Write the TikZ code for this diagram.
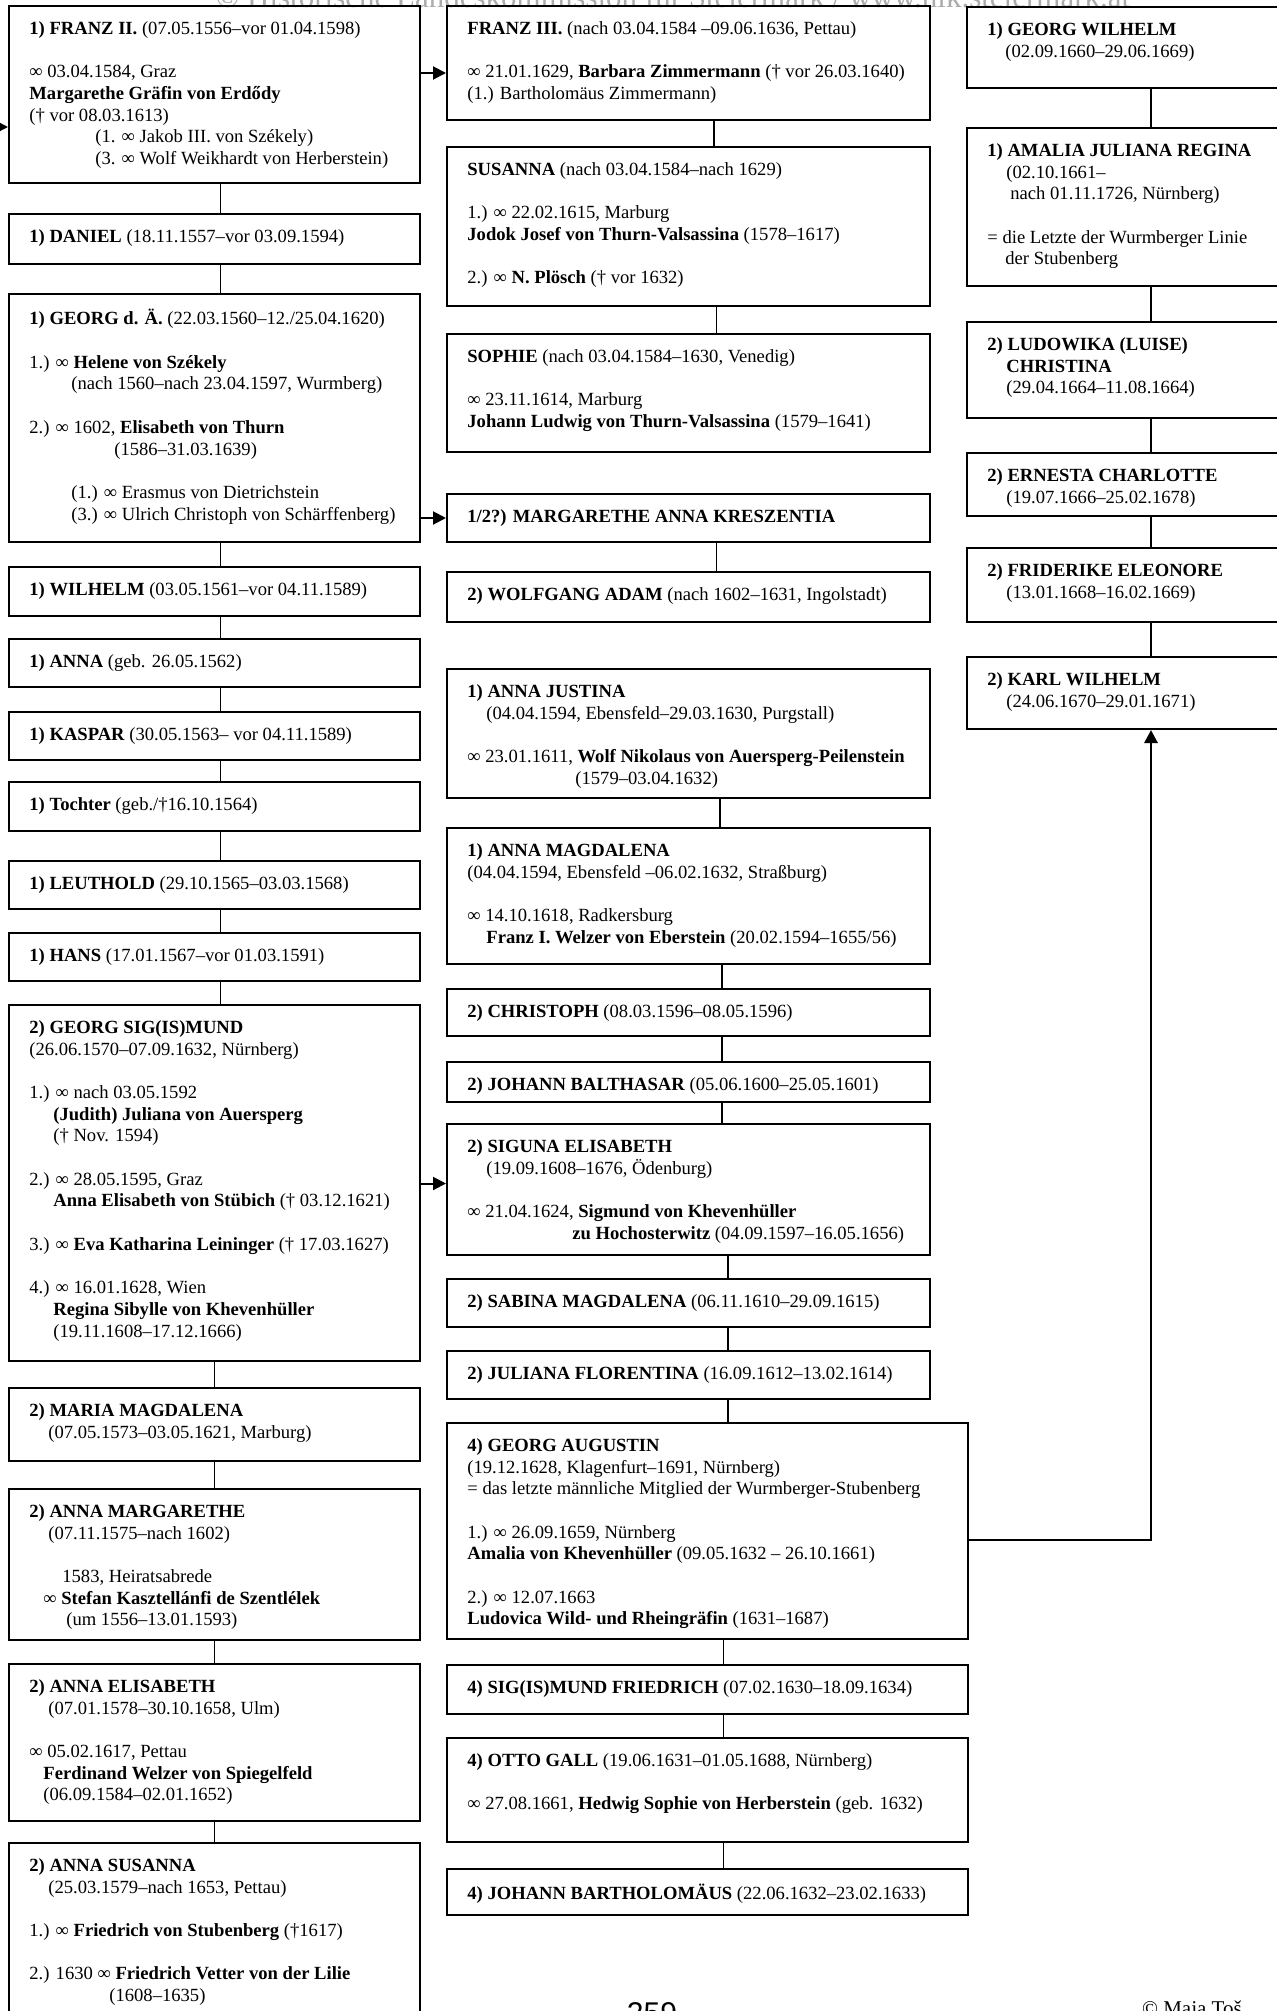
\documentclass[tikz,border=0pt]{standalone}
\usepackage{fontspec}
\setmainfont{Liberation Serif}
\newfontfamily\pagefont{Liberation Sans}
\usepackage{tikz}
\usetikzlibrary{arrows.meta, fit}
\tikzstyle{person} = [draw, line width=1pt, inner sep=0pt]
\tikzstyle{entry} = [anchor=north west, align=left, inner sep=0pt,
    xshift=10.5pt, yshift=-8pt, font=\fontsize{9.3}{10.85}\selectfont]
\tikzstyle{line} = [draw, line width=0.9pt]
\tikzstyle{arrow} = [draw, line width=1pt, -{Triangle[length=6.5pt, width=6.5pt]}]
\newcommand{\vgap}{\\[10.85pt]}
\newcommand{\ind}[1]{\hspace*{#1pt}}

\begin{document}
\begin{tikzpicture}[x=0.5pt, y=-0.5pt]
    \useasboundingbox (0,0) rectangle (1277,2011);
    % Page marks
    \node [anchor=base, text=gray!65, font=\fontsize{15.5}{18}\selectfont] (watermark) at (673,8)
        {© Historische Landeskommission für Steiermark / www.hlk.steiermark.at};
    \node [anchor=base, font=\pagefont\fontsize{15}{18}\selectfont] (pagenr) at (652,2023) {259};
    \node [anchor=base west, font=\fontsize{10.5}{12}\selectfont] (author) at (1135,2015) {© Maja Toš};
    % Nodes: first column
    \node [person, fit={(9,6) (420,183)}] (franzII) {};
    \node [entry] (franzIItext) at (franzII.north west) {\textbf{1) FRANZ II.} (07.05.1556–vor 01.04.1598)\vgap
        ∞ 03.04.1584, Graz\\
        \textbf{Margarethe Gräfin von Erdődy}\\
        († vor 08.03.1613)\\
        \ind{33}(1. ∞ Jakob III. von Székely)\\
        \ind{33}(3. ∞ Wolf Weikhardt von Herberstein)};
    \node [person, fit={(9,214) (420,264)}] (daniel) {};
    \node [entry] (danieltext) at (daniel.north west) {\textbf{1) DANIEL} (18.11.1557–vor 03.09.1594)};
    \node [person, fit={(9,294) (420,542)}] (georgA) {};
    \node [entry] (georgAtext) at (georgA.north west) {\textbf{1) GEORG d. Ä.} (22.03.1560–12./25.04.1620)\vgap
        1.) ∞ \textbf{Helene von Székely}\\
        \ind{21}(nach 1560–nach 23.04.1597, Wurmberg)\vgap
        2.) ∞ 1602, \textbf{Elisabeth von Thurn}\\
        \ind{42.5}(1586–31.03.1639)\vgap
        \ind{21}(1.) ∞ Erasmus von Dietrichstein\\
        \ind{21}(3.) ∞ Ulrich Christoph von Schärffenberg)};
    \node [person, fit={(9,567) (420,616)}] (wilhelm) {};
    \node [entry] (wilhelmtext) at (wilhelm.north west) {\textbf{1) WILHELM} (03.05.1561–vor 04.11.1589)};
    \node [person, fit={(9,639) (420,687)}] (anna) {};
    \node [entry] (annatext) at (anna.north west) {\textbf{1) ANNA} (geb. 26.05.1562)};
    \node [person, fit={(9,712) (420,760)}] (kaspar) {};
    \node [entry] (kaspartext) at (kaspar.north west) {\textbf{1) KASPAR} (30.05.1563– vor 04.11.1589)};
    \node [person, fit={(9,782) (420,831)}] (tochter) {};
    \node [entry] (tochtertext) at (tochter.north west) {\textbf{1) Tochter} (geb./†16.10.1564)};
    \node [person, fit={(9,861) (420,909)}] (leuthold) {};
    \node [entry] (leutholdtext) at (leuthold.north west) {\textbf{1) LEUTHOLD} (29.10.1565–03.03.1568)};
    \node [person, fit={(9,933) (420,981)}] (hans) {};
    \node [entry] (hanstext) at (hans.north west) {\textbf{1) HANS} (17.01.1567–vor 01.03.1591)};
    \node [person, fit={(9,1005) (420,1361)}] (georgS) {};
    \node [entry] (georgStext) at (georgS.north west) {\textbf{2) GEORG SIG(IS)MUND}\\
        (26.06.1570–07.09.1632, Nürnberg)\vgap
        1.) ∞ nach 03.05.1592\\
        \ind{12}\textbf{(Judith) Juliana von Auersperg}\\
        \ind{12}(† Nov. 1594)\vgap
        2.) ∞ 28.05.1595, Graz\\
        \ind{12}\textbf{Anna Elisabeth von Stübich} († 03.12.1621)\vgap
        3.) ∞ \textbf{Eva Katharina Leininger} († 17.03.1627)\vgap
        4.) ∞ 16.01.1628, Wien\\
        \ind{12}\textbf{Regina Sibylle von Khevenhüller}\\
        \ind{12}(19.11.1608–17.12.1666)};
    \node [person, fit={(9,1388) (420,1461)}] (mariaM) {};
    \node [entry] (mariaMtext) at (mariaM.north west) {\textbf{2) MARIA MAGDALENA}\\
        \ind{9.5}(07.05.1573–03.05.1621, Marburg)};
    \node [person, fit={(9,1489) (420,1640)}] (annaMarg) {};
    \node [entry] (annaMargtext) at (annaMarg.north west) {\textbf{2) ANNA MARGARETHE}\\
        \ind{9.5}(07.11.1575–nach 1602)\vgap
        \ind{16.5}1583, Heiratsabrede\\
        \ind{7}∞ \textbf{Stefan Kasztellánfi de Szentlélek}\\
        \ind{18.5}(um 1556–13.01.1593)};
    \node [person, fit={(9,1664) (420,1821)}] (annaElis) {};
    \node [entry] (annaElistext) at (annaElis.north west) {\textbf{2) ANNA ELISABETH}\\
        \ind{9.5}(07.01.1578–30.10.1658, Ulm)\vgap
        ∞ 05.02.1617, Pettau\\
        \ind{7}\textbf{Ferdinand Welzer von Spiegelfeld}\\
        \ind{7}(06.09.1584–02.01.1652)};
    \node [person, fit={(9,1843) (420,2040)}] (annaSus) {};
    \node [entry] (annaSustext) at (annaSus.north west) {\textbf{2) ANNA SUSANNA}\\
        \ind{9.5}(25.03.1579–nach 1653, Pettau)\vgap
        1.) ∞ \textbf{Friedrich von Stubenberg} (†1617)\vgap
        2.) 1630 ∞ \textbf{Friedrich Vetter von der Lilie}\\
        \ind{40}(1608–1635)};
    % Nodes: second column
    \node [person, fit={(447,6) (930,120)}] (franzIII) {};
    \node [entry] (franzIIItext) at (franzIII.north west) {\textbf{FRANZ III.} (nach 03.04.1584 –09.06.1636, Pettau)\vgap
        ∞ 21.01.1629, \textbf{Barbara Zimmermann} († vor 26.03.1640)\\
        (1.) Bartholomäus Zimmermann)};
    \node [person, fit={(447,147) (930,306)}] (susanna) {};
    \node [entry] (susannatext) at (susanna.north west) {\textbf{SUSANNA} (nach 03.04.1584–nach 1629)\vgap
        1.) ∞ 22.02.1615, Marburg\\
        \textbf{Jodok Josef von Thurn-Valsassina} (1578–1617)\vgap
        2.) ∞ \textbf{N. Plösch} († vor 1632)};
    \node [person, fit={(447,334) (930,452)}] (sophie) {};
    \node [entry] (sophietext) at (sophie.north west) {\textbf{SOPHIE} (nach 03.04.1584–1630, Venedig)\vgap
        ∞ 23.11.1614, Marburg\\
        \textbf{Johann Ludwig von Thurn-Valsassina} (1579–1641)};
    \node [person, fit={(447,494) (930,542)}] (kreszentia) {};
    \node [entry] (kreszentiatext) at (kreszentia.north west) {\textbf{1/2?) MARGARETHE ANNA KRESZENTIA}};
    \node [person, fit={(447,572) (930,622)}] (wolfgang) {};
    \node [entry] (wolfgangtext) at (wolfgang.north west) {\textbf{2) WOLFGANG ADAM} (nach 1602–1631, Ingolstadt)};
    \node [person, fit={(447,669) (930,798)}] (annaJ) {};
    \node [entry] (annaJtext) at (annaJ.north west) {\textbf{1) ANNA JUSTINA}\\
        \ind{9.5}(04.04.1594, Ebensfeld–29.03.1630, Purgstall)\vgap
        ∞ 23.01.1611, \textbf{Wolf Nikolaus von Auersperg-Peilenstein}\\
        \ind{54}(1579–03.04.1632)};
    \node [person, fit={(447,828) (930,964)}] (annaM) {};
    \node [entry] (annaMtext) at (annaM.north west) {\textbf{1) ANNA MAGDALENA}\\
        (04.04.1594, Ebensfeld –06.02.1632, Straßburg)\vgap
        ∞ 14.10.1618, Radkersburg\\
        \ind{9.5}\textbf{Franz I. Welzer von Eberstein} (20.02.1594–1655/56)};
    \node [person, fit={(447,989) (930,1036)}] (christoph) {};
    \node [entry] (christophtext) at (christoph.north west) {\textbf{2) CHRISTOPH} (08.03.1596–08.05.1596)};
    \node [person, fit={(447,1062) (930,1102)}] (johannB) {};
    \node [entry] (johannBtext) at (johannB.north west) {\textbf{2) JOHANN BALTHASAR} (05.06.1600–25.05.1601)};
    \node [person, fit={(447,1124) (930,1255)}] (siguna) {};
    \node [entry] (sigunatext) at (siguna.north west) {\textbf{2) SIGUNA ELISABETH}\\
        \ind{9.5}(19.09.1608–1676, Ödenburg)\vgap
        ∞ 21.04.1624, \textbf{Sigmund von Khevenhüller}\\
        \ind{52.5}\textbf{zu Hochosterwitz} (04.09.1597–16.05.1656)};
    \node [person, fit={(447,1279) (930,1327)}] (sabina) {};
    \node [entry] (sabinatext) at (sabina.north west) {\textbf{2) SABINA MAGDALENA} (06.11.1610–29.09.1615)};
    \node [person, fit={(447,1351) (930,1399)}] (juliana) {};
    \node [entry] (julianatext) at (juliana.north west) {\textbf{2) JULIANA FLORENTINA} (16.09.1612–13.02.1614)};
    \node [person, fit={(447,1423) (968,1639)}] (georgAug) {};
    \node [entry] (georgAugtext) at (georgAug.north west) {\textbf{4) GEORG AUGUSTIN}\\
        (19.12.1628, Klagenfurt–1691, Nürnberg)\\
        = das letzte männliche Mitglied der Wurmberger-Stubenberg\vgap
        1.) ∞ 26.09.1659, Nürnberg\\
        \textbf{Amalia von Khevenhüller} (09.05.1632 – 26.10.1661)\vgap
        2.) ∞ 12.07.1663\\
        \textbf{Ludovica Wild- und Rheingräfin} (1631–1687)};
    \node [person, fit={(447,1665) (968,1714)}] (sigmundF) {};
    \node [entry] (sigmundFtext) at (sigmundF.north west) {\textbf{4) SIG(IS)MUND FRIEDRICH} (07.02.1630–18.09.1634)};
    \node [person, fit={(447,1738) (968,1842)}] (otto) {};
    \node [entry] (ottotext) at (otto.north west) {\textbf{4) OTTO GALL} (19.06.1631–01.05.1688, Nürnberg)\vgap
        ∞ 27.08.1661, \textbf{Hedwig Sophie von Herberstein} (geb. 1632)};
    \node [person, fit={(447,1869) (968,1915)}] (johannBar) {};
    \node [entry] (johannBartext) at (johannBar.north west) {\textbf{4) JOHANN BARTHOLOMÄUS} (22.06.1632–23.02.1633)};
    % Nodes: third column
    \node [person, fit={(967,7) (1335,88)}] (georgW) {};
    \node [entry] (georgWtext) at (georgW.north west) {\textbf{1) GEORG WILHELM}\\
        \ind{9}(02.09.1660–29.06.1669)};
    \node [person, fit={(967,128) (1335,286)}] (amalia) {};
    \node [entry] (amaliatext) at (amalia.north west) {\textbf{1) AMALIA JULIANA REGINA}\\
        \ind{9.5}(02.10.1661–\\
        \ind{11.5}nach 01.11.1726, Nürnberg)\vgap
        = die Letzte der Wurmberger Linie\\
        \ind{9}der Stubenberg};
    \node [person, fit={(967,322) (1335,418)}] (ludowika) {};
    \node [entry] (ludowikatext) at (ludowika.north west) {\textbf{2) LUDOWIKA (LUISE)}\\
        \ind{9.5}\textbf{CHRISTINA}\\
        \ind{9.5}(29.04.1664–11.08.1664)};
    \node [person, fit={(967,453) (1335,516)}] (ernesta) {};
    \node [entry] (ernestatext) at (ernesta.north west) {\textbf{2) ERNESTA CHARLOTTE}\\
        \ind{9.5}(19.07.1666–25.02.1678)};
    \node [person, fit={(967,548) (1335,622)}] (friderike) {};
    \node [entry] (friderikietext) at (friderike.north west) {\textbf{2) FRIDERIKE ELEONORE}\\
        \ind{9.5}(13.01.1668–16.02.1669)};
    \node [person, fit={(967,657) (1335,729)}] (karlW) {};
    \node [entry] (karlWtext) at (karlW.north west) {\textbf{2) KARL WILHELM}\\
        \ind{9.5}(24.06.1670–29.01.1671)};
    % Coordinates for the arrows
    \coordinate (franzIIin) at (-10,127);
    \coordinate (franzIIIin) at ([yshift=-5pt]franzIII.west);
    \coordinate (sigunaIn) at ([yshift=3pt]siguna.west);
    \coordinate (georgAugOut) at ([yshift=-4.5pt]georgAug.east);
    % Edges: first column
    \path[line] ([xshift=3pt]franzII.south) -- ([xshift=3pt]daniel.north);
    \path[line] ([xshift=3pt]daniel.south) -- ([xshift=3pt]georgA.north);
    \path[line] ([xshift=3pt]georgA.south) -- ([xshift=3pt]wilhelm.north);
    \path[line] ([xshift=3pt]wilhelm.south) -- ([xshift=3pt]anna.north);
    \path[line] ([xshift=3pt]anna.south) -- ([xshift=3pt]kaspar.north);
    \path[line] ([xshift=3pt]kaspar.south) -- ([xshift=3pt]tochter.north);
    \path[line] ([xshift=3pt]tochter.south) -- ([xshift=3pt]leuthold.north);
    \path[line] ([xshift=3pt]leuthold.south) -- ([xshift=3pt]hans.north);
    \path[line] ([xshift=3pt]hans.south) -- ([xshift=3pt]georgS.north);
    \path[line] (georgS.south) -- (mariaM.north);
    \path[line] (mariaM.south) -- (annaMarg.north);
    \path[line] (annaMarg.south) -- (annaElis.north);
    \path[line] (annaElis.south) -- (annaSus.north);
    % Edges: second column
    \path[line] ([xshift=12.75pt]franzIII.south) -- ([xshift=12.75pt]susanna.north);
    \path[line] ([xshift=14pt]susanna.south) -- ([xshift=14pt]sophie.north);
    \path[line] ([xshift=14pt]kreszentia.south) -- ([xshift=14pt]wolfgang.north);
    \path[line] ([xshift=15.75pt]annaJ.south) -- ([xshift=15.75pt]annaM.north);
    \path[line] ([xshift=16.75pt]annaM.south) -- ([xshift=16.75pt]christoph.north);
    \path[line] ([xshift=16.75pt]christoph.south) -- ([xshift=16.75pt]johannB.north);
    \path[line] ([xshift=16.75pt]johannB.south) -- ([xshift=16.75pt]siguna.north);
    \path[line] ([xshift=19.75pt]siguna.south) -- ([xshift=19.75pt]sabina.north);
    \path[line] ([xshift=19.75pt]sabina.south) -- ([xshift=19.75pt]juliana.north);
    \path[line] ([xshift=19.75pt]juliana.south) -- ([xshift=19.75pt]juliana.south |- georgAug.north);
    \path[line] ([xshift=8pt]georgAug.south) -- ([xshift=8pt]sigmundF.north);
    \path[line] ([xshift=8pt]sigmundF.south) -- ([xshift=8pt]otto.north);
    \path[line] ([xshift=8pt]otto.south) -- ([xshift=8pt]johannBar.north);
    % Edges: third column
    \path[line] (georgW.south) -- (amalia.north);
    \path[line] (amalia.south) -- (ludowika.north);
    \path[line] (ludowika.south) -- (ernesta.north);
    \path[line] (ernesta.south) -- (friderike.north);
    \path[line] (friderike.south) -- (karlW.north);
    % Arrows
    \path[arrow] (franzIIin) -- (franzIIin -| franzII.west);
    \path[arrow] (franzII.east |- franzIIIin) -- (franzIIIin);
    \path[arrow] (georgA.east |- kreszentia.west) -- (kreszentia.west);
    \path[arrow] (georgS.east |- sigunaIn) -- (sigunaIn);
    \path[arrow, line width=1.4pt] (georgAugOut) -| (karlW.south);
\end{tikzpicture}
\end{document}
